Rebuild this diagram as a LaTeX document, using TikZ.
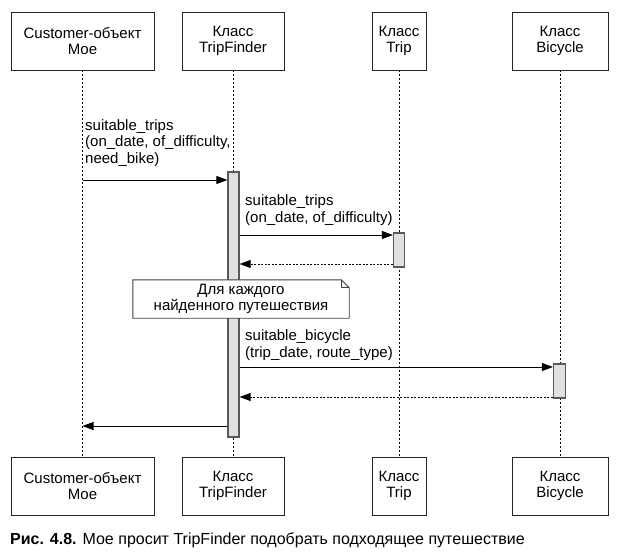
\documentclass[tikz,border=0pt]{standalone}
\usepackage{fontspec}
\setmainfont{Liberation Sans}
\usetikzlibrary{arrows.meta,calc}
\begin{document}
\begin{tikzpicture}[x=1pt,y=-1pt,
  txt/.style={font=\fontsize{15}{16.7}\selectfont},
  lbl/.style={txt, inner sep=0pt, align=left, anchor=south west},
  objbox/.style={draw=black!85, line width=0.9pt, fill=white, align=center, txt, inner sep=0pt, minimum height=58pt},
  life/.style={draw=black, line width=0.7pt, dash pattern=on 2pt off 2pt},
  act/.style={draw=black!65, fill=black!12, line width=1.2pt, inner sep=0pt},
  msg/.style={draw=black, line width=0.9pt, -{Triangle[length=11pt,width=8pt]}},
  ret/.style={draw=black, line width=0.8pt, dash pattern=on 2pt off 1.5pt, -{Triangle[length=11pt,width=8pt]}},
  notebox/.style={txt, align=center, inner sep=0pt, minimum width=216pt, minimum height=38pt}
]
\useasboundingbox (0,0) rectangle (618,552);
% top boxes
\node[objbox, minimum width=143pt] (cT) at (82.5,41) {Customer-объект\\Мое};
\node[objbox, minimum width=102pt] (fT) at (233,41) {Класс\\TripFinder};
\node[objbox, minimum width=54pt] (tT) at (399,41) {Класс\\Trip};
\node[objbox, minimum width=96pt] (bT) at (560,41) {Класс\\Bicycle};
% bottom boxes
\node[objbox, minimum width=143pt] (cB) at (82.5,486) {Customer-объект\\Мое};
\node[objbox, minimum width=102pt] (fB) at (233,486) {Класс\\TripFinder};
\node[objbox, minimum width=54pt] (tB) at (399,486) {Класс\\Trip};
\node[objbox, minimum width=96pt] (bB) at (560,486) {Класс\\Bicycle};
% lifelines
\draw[life] (cT.south) -- (cB.north);
\draw[life] (fT.south) -- (fB.north);
\draw[life] (tT.south) -- (tB.north);
\draw[life] (bT.south) -- (bB.north);
% activation bars
\node[act, minimum width=11pt, minimum height=265pt] (fA) at (233.5,304.5) {};
\node[act, minimum width=11pt, minimum height=34pt] (tA) at (399,250) {};
\node[act, minimum width=12pt, minimum height=34pt] (bA) at (559.5,381) {};
% message y-levels
\coordinate (y1) at (0,180);
\coordinate (y2) at (0,235);
\coordinate (y3) at (0,264);
\coordinate (y5) at (0,367);
\coordinate (y6) at (0,397);
\coordinate (y7) at (0,426);
% messages
\draw[msg] (cT.south |- y1) -- (fA.west |- y1);
\node[lbl] (l1) at (85,167) {suitable\_trips\\(on\_date, of\_difficulty,\\need\_bike)};
\draw[msg] (fA.east |- y2) -- (tA.west |- y2);
\node[lbl] (l2) at (245,226) {suitable\_trips\\(on\_date, of\_difficulty)};
\draw[ret] (tA.west |- y3) -- (fA.east |- y3);
\draw[msg] (fA.east |- y5) -- (bA.west |- y5);
\node[lbl] (l5) at (245,361) {suitable\_bicycle\\(trip\_date, route\_type)};
\draw[ret] (bA.west |- y6) -- (fA.east |- y6);
\draw[msg] (fA.west |- y7) -- (cT.south |- y7);
% note
\node[notebox] (note) at (241,299) {Для каждого\\найденного путешествия};
\fill[white] (note.north west) -- ($(note.north east)+(-8,0)$) -- ($(note.north east)+(0,8)$) -- (note.south east) -- (note.south west) -- cycle;
\draw[black!75, line width=0.9pt] (note.north west) -- ($(note.north east)+(-8,0)$) -- ($(note.north east)+(0,8)$) -- (note.south east) -- (note.south west) -- cycle;
\draw[black!75, line width=0.7pt] ($(note.north east)+(-8,0)$) -- ($(note.north east)+(-8,8)$) -- ($(note.north east)+(0,8)$);
\node[notebox] at (note.center) {Для каждого\\найденного путешествия};
% caption
\node[anchor=base west, inner sep=0pt, font=\fontsize{16}{18}\selectfont] (cap) at (10,544) {\textbf{Рис. 4.8.} Мое просит TripFinder подобрать подходящее путешествие};
\end{tikzpicture}
\end{document}
